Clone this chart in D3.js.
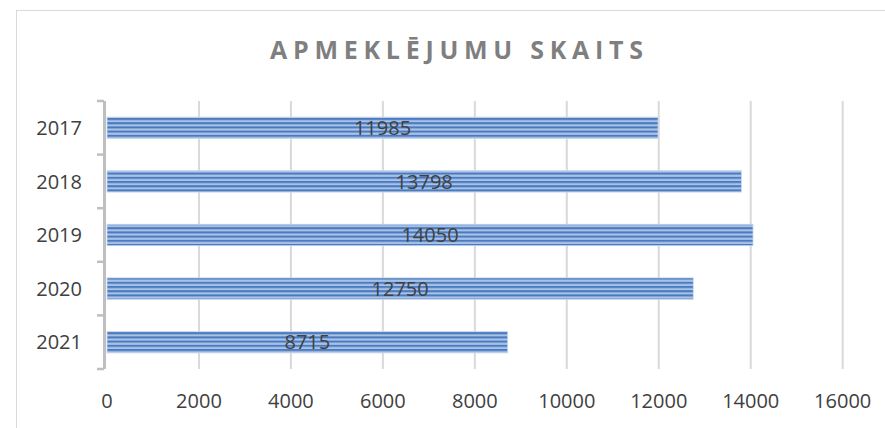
<!DOCTYPE html>
<html><head><meta charset="utf-8">
<script src="https://cdn.jsdelivr.net/npm/d3@7"></script>
<style>
html,body{margin:0;padding:0;background:#fff;}
svg{display:block;font-family:"Open Sans",sans-serif;}
</style></head>
<body><svg id="c" width="885" height="428"></svg>
<script>
const title = "APMEKLĒJUMU SKAITS";
const categories = ["2017","2018","2019","2020","2021"];
const values = [11985, 13798, 14050, 12750, 8715];
const xTicks = [0,2000,4000,6000,8000,10000,12000,14000,16000];

const svg = d3.select("#c");
const W = 885, H = 428;
const m = {left:107, right:42, top:101, bottom:59};

// chart area border
svg.append("rect").attr("x",16.5).attr("y",10.5).attr("width",900).attr("height",440)
  .attr("fill","#fff").attr("stroke","#d9d9d9").attr("stroke-width",1);

// stripe pattern
const defs = svg.append("defs");
const pat = defs.append("pattern").attr("id","stripes").attr("patternUnits","userSpaceOnUse")
  .attr("width",8).attr("height",4.2).attr("y",118);
pat.append("rect").attr("width",8).attr("height",4.2).attr("fill","#a9c3e7");
pat.append("rect").attr("y",0).attr("width",8).attr("height",1.9).attr("fill","#4a7abf");
pat.append("rect").attr("y",1.9).attr("width",8).attr("height",0.6).attr("fill","#7ea0d3");

const x = d3.scaleLinear().domain([0,16000]).range([m.left, m.left + 16000*0.04598]);
const y = d3.scaleBand().domain(categories).range([m.top, H - m.bottom]).paddingInner(0.6).paddingOuter(0.3);
const band = d3.scaleBand().domain(categories).range([m.top, H - m.bottom]);

// gridlines
svg.append("g").selectAll("line").data(xTicks.filter(d=>d>0)).join("line")
  .attr("x1",d=>x(d)).attr("x2",d=>x(d)).attr("y1",m.top).attr("y2",H-m.bottom)
  .attr("stroke","#d9d9d9").attr("stroke-width",2);

// bars
svg.append("g").selectAll("rect").data(values).join("rect")
  .attr("x",x(0)).attr("y",(d,i)=>y(categories[i]))
  .attr("width",d=>x(d)-x(0)).attr("height",y.bandwidth())
  .attr("fill","url(#stripes)").attr("stroke","#c9d8ef").attr("stroke-width",0.8);

// y axis line and ticks
const bounds = categories.map(c=>band(c)).concat([H-m.bottom]);
svg.append("line").attr("x1",104.5).attr("x2",104.5).attr("y1",m.top).attr("y2",H-m.bottom)
  .attr("stroke","#bfbfbf").attr("stroke-width",3);
svg.append("g").selectAll("line").data(bounds).join("line")
  .attr("x1",97).attr("x2",104).attr("y1",d=>d).attr("y2",d=>d)
  .attr("stroke","#bfbfbf").attr("stroke-width",2.5);

// category labels
svg.append("g").selectAll("text").data(categories).join("text")
  .attr("x",82).attr("y",c=>band(c)+band.bandwidth()/2).attr("dy","0.36em")
  .attr("text-anchor","end").attr("font-size",20).attr("fill","#404040").text(c=>c);

// x tick labels
svg.append("g").selectAll("text").data(xTicks).join("text")
  .attr("x",d=>x(d)).attr("y",408).attr("text-anchor","middle")
  .attr("font-size",20).attr("fill","#404040").text(d=>d);

// data labels
svg.append("g").selectAll("text").data(values).join("text")
  .attr("x",d=>(x(0)+x(d))/2).attr("y",(d,i)=>y(categories[i])+y.bandwidth()/2).attr("dy","0.36em")
  .attr("text-anchor","middle").attr("font-size",20).attr("fill","#404040").text(d=>d);

// title
svg.append("text").attr("x",270).attr("y",58.5)
  .attr("font-size",25).attr("font-weight","bold").attr("fill","#7f7f7f")
  .attr("textLength",373).attr("lengthAdjust","spacing").text(title);
</script></body></html>
